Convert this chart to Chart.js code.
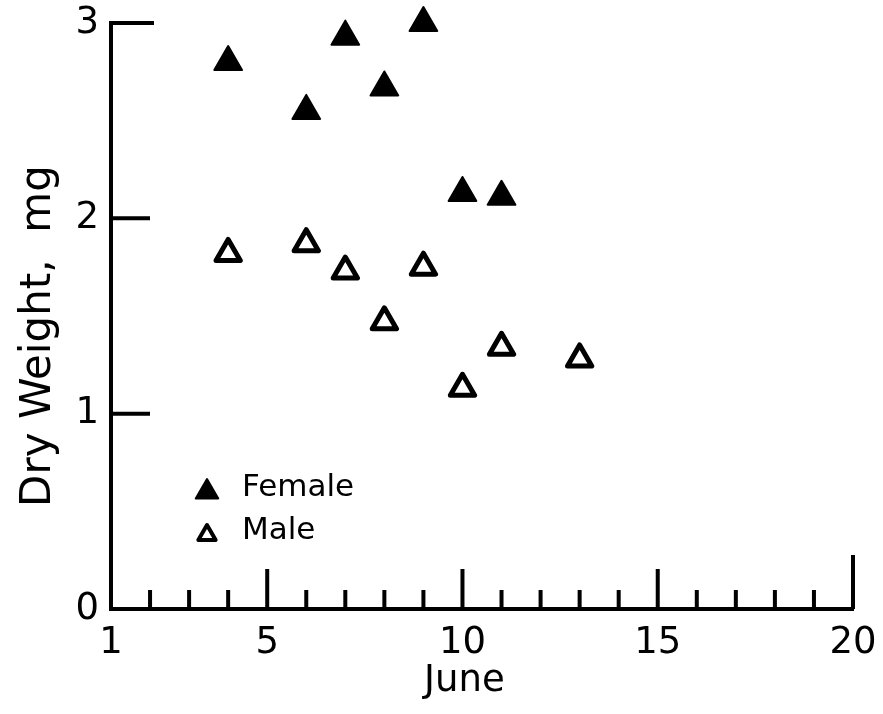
<!DOCTYPE html>
<html>
<head>
<meta charset="utf-8">
<script src="https://cdn.jsdelivr.net/npm/chart.js@4.4.1/dist/chart.umd.min.js"></script>
<style>
  body { margin: 0; background: #fff; }
  canvas { display: block; }
</style>
</head>
<body>
<canvas id="chart" width="883" height="714"></canvas>
<script>
// June day numbers and dry weights (mg)
var femaleDays = [4, 6, 7, 8, 9, 10, 11];
var femaleWeights = [2.80, 2.55, 2.93, 2.67, 3.00, 2.13, 2.11];
var maleDays = [4, 6, 7, 8, 9, 10, 11, 13];
var maleWeights = [1.82, 1.87, 1.73, 1.47, 1.75, 1.13, 1.34, 1.28];

var xTickLabels = [1, 5, 10, 15, 20];
var yTickLabels = [0, 1, 2, 3];

function toPoints(xs, ys) {
    return xs.map(function (x, i) { return { x: x, y: ys[i] }; });
}

var fontFamily = '"DejaVu Sans", sans-serif';

// tick marks drawn inward, like the original figure
var inwardTicks = {
    id: 'inwardTicks',
    afterDraw: function (chart) {
        var ctx = chart.ctx;
        var xs = chart.scales.x, ys = chart.scales.y;
        var bottom = ys.getPixelForValue(0);
        var left = xs.getPixelForValue(1);
        ctx.save();
        ctx.strokeStyle = '#000';
        ctx.lineWidth = 4;
        ctx.beginPath();
        for (var d = 2; d <= 20; d++) {
            var len = 19;
            if (d % 5 === 0) len = 40;
            if (d === 20) len = 54;
            var px = xs.getPixelForValue(d);
            ctx.moveTo(px, bottom);
            ctx.lineTo(px, bottom - len);
        }
        for (var v = 1; v <= 3; v++) {
            var py = ys.getPixelForValue(v);
            ctx.moveTo(left, py);
            ctx.lineTo(left + (v === 3 ? 43 : 39), py);
        }
        ctx.stroke();
        ctx.restore();
    }
};

var roundJoins = {
    id: 'roundJoins',
    beforeDatasetsDraw: function (chart) {
        chart.ctx.save();
        chart.ctx.lineJoin = 'round';
    },
    afterDatasetsDraw: function (chart) {
        chart.ctx.restore();
    }
};

// legend inside the plot area, lower left
var innerLegend = {
    id: 'innerLegend',
    afterDraw: function (chart) {
        var ctx = chart.ctx;
        var area = chart.chartArea;
        var rows = [
            { ds: chart.data.datasets[0], y: area.bottom - 120, r: 13, bw: 2 },
            { ds: chart.data.datasets[1], y: area.bottom - 77, r: 10, bw: 4 }
        ];
        ctx.save();
        ctx.lineJoin = 'round';
        rows.forEach(function (row) {
            ctx.fillStyle = row.ds.backgroundColor;
            ctx.strokeStyle = row.ds.borderColor;
            ctx.lineWidth = row.bw;
            Chart.helpers.drawPoint(ctx, { pointStyle: 'triangle', radius: row.r, rotation: 0, borderWidth: row.bw },
                area.left + 96, row.y + 3);
            ctx.fillStyle = '#000';
            ctx.font = '31px ' + fontFamily;
            ctx.textBaseline = 'middle';
            ctx.textAlign = 'left';
            ctx.fillText(row.ds.label, area.left + 131, row.y - 1);
        });
        ctx.restore();
    }
};

new Chart(document.getElementById('chart').getContext('2d'), {
    type: 'scatter',
    data: {
        datasets: [{
            label: 'Female',
            data: toPoints(femaleDays, femaleWeights),
            pointStyle: 'triangle',
            pointRadius: 16,
            pointHoverRadius: 16,
            backgroundColor: '#000',
            borderColor: '#000',
            pointBorderWidth: 2,
            clip: false
        }, {
            label: 'Male',
            data: toPoints(maleDays, maleWeights),
            pointStyle: 'triangle',
            pointRadius: 14,
            pointHoverRadius: 14,
            backgroundColor: '#fff',
            borderColor: '#000',
            pointBorderWidth: 5,
            clip: false
        }]
    },
    options: {
        responsive: false,
        animation: false,
        layout: { padding: { top: 23, right: 30, left: 0, bottom: 0 } },
        plugins: {
            legend: { display: false },
            tooltip: { enabled: false }
        },
        scales: {
            x: {
                type: 'linear',
                min: 1,
                max: 20,
                afterBuildTicks: function (scale) {
                    scale.ticks = xTickLabels.map(function (v) { return { value: v }; });
                },
                afterFit: function (scale) {
                    scale.height = 105;
                    scale.paddingLeft = 0;
                    scale.paddingRight = 0;
                },
                grid: { display: false, drawTicks: false },
                border: { display: true, color: '#000', width: 4 },
                ticks: {
                    color: '#000',
                    padding: 12,
                    maxRotation: 0,
                    font: { family: fontFamily, size: 37 }
                },
                title: {
                    display: true,
                    // trailing spaces nudge the centred title left, as in the original
                    text: 'June   ',
                    color: '#000',
                    padding: { top: 0, bottom: 10 },
                    font: { family: fontFamily, size: 37 }
                }
            },
            y: {
                type: 'linear',
                min: 0,
                max: 3,
                afterBuildTicks: function (scale) {
                    scale.ticks = yTickLabels.map(function (v) { return { value: v }; });
                },
                afterFit: function (scale) {
                    scale.width = 111;
                    scale.paddingTop = 0;
                    scale.paddingBottom = 0;
                },
                grid: { display: false, drawTicks: false },
                border: { display: true, color: '#000', width: 4 },
                ticks: {
                    color: '#000',
                    padding: 12,
                    font: { family: fontFamily, size: 37 }
                },
                title: {
                    display: true,
                    text: 'Dry Weight,  mg   ',
                    color: '#000',
                    padding: { top: 14, bottom: 0 },
                    font: { family: fontFamily, size: 42 }
                }
            }
        }
    },
    plugins: [roundJoins, inwardTicks, innerLegend]
});
</script>
</body>
</html>
